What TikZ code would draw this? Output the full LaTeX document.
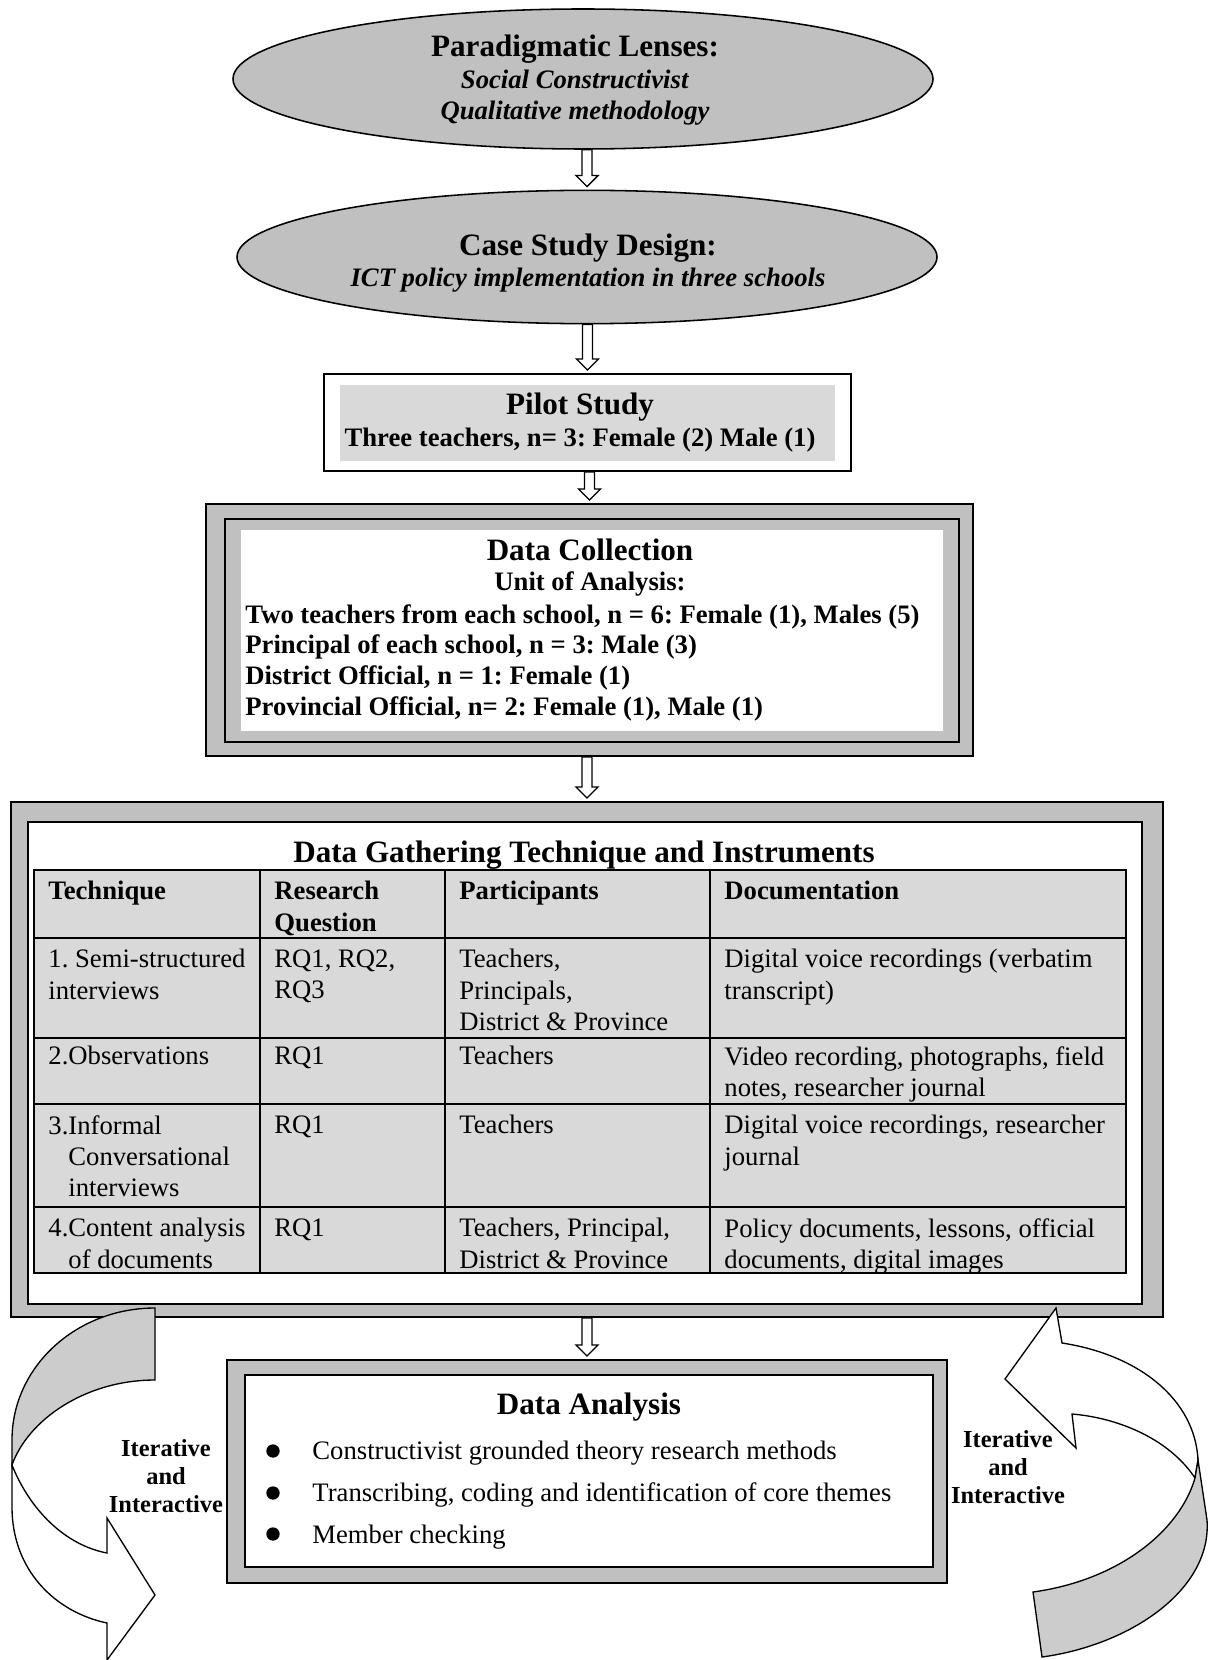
\documentclass[tikz,border=0pt]{standalone}
\usepackage{fontspec}
\setmainfont{Liberation Serif}
\usetikzlibrary{shapes.geometric,calc}
\frenchspacing
\definecolor{lensgray}{RGB}{192,192,192}
\definecolor{cellgray}{RGB}{217,217,217}
\definecolor{curlgray}{RGB}{204,204,204}
\newcommand{\headfont}{\fontsize{14}{16}\selectfont\bfseries}
\newcommand{\bodyfont}{\fontsize{12}{14}\selectfont}
\newcommand{\curlfont}{\fontsize{11}{12.6}\selectfont\bfseries}
\newcommand{\flowarrow}[2]{\draw[hollow] ($(#1 -| #2)+(-5,0)$) -- ($(#2)+(-5,-14)$) -- ($(#2)+(-11,-14)$) -- ($(#2)+(0,-3)$) -- ($(#2)+(11,-14)$) -- ($(#2)+(5,-14)$) -- ($(#1 -| #2)+(5,0)$) -- cycle;}
\begin{document}
\begin{tikzpicture}[x=.45pt,y=-.45pt,
	lens/.style={ellipse,draw,line width=.7pt,fill=lensgray,inner sep=0pt},
	boxframe/.style={draw,line width=.9pt,fill=lensgray,inner sep=0pt},
	hollow/.style={draw,line width=.6pt,fill=white},
	cell/.style={anchor=north west,inner sep=0pt,align=left,font=\bodyfont},
	bullet/.style={circle,fill,inner sep=0pt,minimum size=6pt},
	curl/.style={draw,line width=.6pt}]
	\useasboundingbox (0,0) rectangle (1209,1660);
	\node[lens,minimum width=315pt,minimum height=63pt] (lens) at (583,79) {};
	\node[align=center,font=\fontsize{12}{14}\selectfont] (lenstext) at (575,80) {{\headfont Paradigmatic Lenses:}\\[0.5pt]\textbf{\textit{Social Constructivist}}\\\textbf{\textit{Qualitative methodology}}};
	\node[lens,minimum width=315pt,minimum height=60pt] (case) at (587,257) {};
	\node[align=center,font=\fontsize{12}{14}\selectfont] (casetext) at (588,263) {{\headfont Case Study Design:}\\\textbf{\textit{ICT policy implementation in three schools}}};
	\fill[cellgray] (340,385) rectangle (835,461);
	\node[draw,line width=.9pt,minimum width=237.15pt,minimum height=43.65pt] (pilot) at (587.5,422.5) {};
	\node[align=center,font=\fontsize{12}{14.8}\selectfont\bfseries] (pilottext) at (580,422.5) {{\headfont Pilot Study}\\Three teachers, n= 3: Female (2) Male (1)};
	\node[boxframe,minimum width=345.15pt,minimum height=113.4pt] (collect) at (589.5,630) {};
	\draw[fill=lensgray,line width=.8pt] (225,519) rectangle (959,742);
	\fill[white] (241,530) rectangle (943,731);
	\node[font=\headfont] (dctitle) at (590,550) {Data Collection};
	\node[font=\bodyfont\bfseries] (unit) at (590,584) {Unit of Analysis:};
	\node[cell,font=\fontsize{12}{13.8}\selectfont\bfseries] (units) at (245,604) {Two teachers from each school, n = 6: Female (1), Males (5)\\Principal of each school, n = 3: Male (3)\\District Official, n = 1: Female (1)\\Provincial Official, n= 2: Female (1), Male (1)};
	\node[boxframe,minimum width=518.4pt,minimum height=231.75pt] (gather) at (587,1059.5) {};
	\draw[fill=white,line width=.8pt] (28,822) rectangle (1142,1304);
	\node[font=\headfont] (dgtitle) at (584,855) {Data Gathering Technique and Instruments};
	\fill[cellgray] (34,870) rectangle (1126,1273);
	\foreach \y in {938,1038,1104,1207} \draw[line width=1.1pt] (34,\y) -- (1126,\y);
	\foreach \x in {260,445,710} \draw[line width=.8pt] (\x,870) -- (\x,1273);
	\draw[line width=1.1pt] (34,870) rectangle (1126,1273);
	\node[cell,font=\bodyfont\bfseries] (h1) at (48,881) {Technique};
	\node[cell,font=\bodyfont\bfseries] (h2) at (274,881) {Research\\Question};
	\node[cell,font=\bodyfont\bfseries] (h3) at (459,881) {Participants};
	\node[cell,font=\bodyfont\bfseries] (h4) at (724,881) {Documentation};
	\node[cell] (a1) at (48,949) {1. Semi-structured\\interviews};
	\node[cell] (a2) at (274,949) {RQ1, RQ2,\\RQ3};
	\node[cell] (a3) at (459,949) {Teachers,\\Principals,\\District \& Province};
	\node[cell] (a4) at (724,949) {Digital voice recordings (verbatim\\transcript)};
	\node[cell] (b1) at (48,1046) {2.Observations};
	\node[cell] (b2) at (274,1046) {RQ1};
	\node[cell] (b3) at (459,1046) {Teachers};
	\node[cell] (b4) at (724,1046) {Video recording, photographs, field\\notes, researcher journal};
	\node[cell] (c1) at (48,1115) {3.Informal\\\hspace*{9pt}Conversational\\\hspace*{9pt}interviews};
	\node[cell] (c2) at (274,1115) {RQ1};
	\node[cell] (c3) at (459,1115) {Teachers};
	\node[cell] (c4) at (724,1115) {Digital voice recordings, researcher\\journal};
	\node[cell] (d1) at (48,1218) {4.Content analysis\\\hspace*{9pt}of documents};
	\node[cell] (d2) at (274,1218) {RQ1};
	\node[cell] (d3) at (459,1218) {Teachers, Principal,\\District \& Province};
	\node[cell] (d4) at (724,1218) {Policy documents, lessons, official\\documents, digital images};
	\node[boxframe,minimum width=324pt,minimum height=100.35pt] (analysis) at (587,1471.5) {};
	\draw[fill=white,line width=.8pt] (245,1375) rectangle (933,1567);
	\node[font=\headfont] (datitle) at (589,1407) {Data Analysis};
	\node[bullet] (dot1) at (273,1451) {};
	\node[bullet] (dot2) at (273,1493) {};
	\node[bullet] (dot3) at (273,1534) {};
	\node[anchor=west,inner sep=0pt,font=\bodyfont] (item1) at (312,1453) {Constructivist grounded theory research methods};
	\node[anchor=west,inner sep=0pt,font=\bodyfont] (item2) at (312,1495) {Transcribing, coding and identification of core themes};
	\node[anchor=west,inner sep=0pt,font=\bodyfont] (item3) at (312,1537) {Member checking};
	\flowarrow{lens.south}{case.north}
	\flowarrow{case.south}{pilot.north}
	\flowarrow{pilot.south}{collect.north}
	\flowarrow{collect.south}{gather.north}
	\flowarrow{gather.south}{analysis.north}
	\draw[curl,fill=curlgray] (155,1308) .. controls (76,1308) and (12,1367) .. (12,1440) -- (12,1465) .. controls (28,1420) and (85,1380) .. (155,1380) -- cycle;
	\draw[curl,fill=white] (12,1465) -- (12,1507) .. controls (12,1570) and (55,1612) .. (107,1623) -- (107,1660) -- (155,1595) -- (107,1518) -- (107,1553) .. controls (65,1545) and (30,1510) .. (12,1465) -- cycle;
	\draw[curl,fill=white] (1062,1343) .. controls (1140,1355) and (1195,1400) .. (1198,1460) -- (1195,1478) .. controls (1170,1440) and (1120,1418) .. (1072,1414) -- (1076,1448) -- (1005,1379) -- (1056,1308) -- cycle;
	\draw[curl,fill=curlgray] (1198,1460) -- (1207,1520) .. controls (1212,1590) and (1130,1645) .. (1042,1657) -- (1033,1592) .. controls (1120,1580) and (1180,1530) .. (1195,1478) -- cycle;
	\node[align=center,font=\curlfont] (iterleft) at (166,1476) {Iterative\\and\\Interactive};
	\node[align=center,font=\curlfont] (iterright) at (1008,1467) {Iterative\\and\\Interactive};
\end{tikzpicture}
\end{document}
